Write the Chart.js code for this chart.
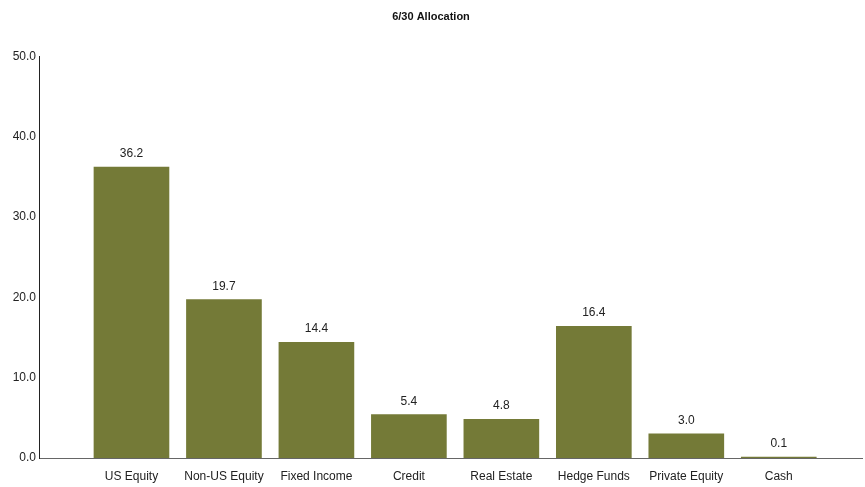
<!DOCTYPE html>
<html>
<head>
<meta charset="utf-8">
<title>6/30 Allocation</title>
<script src="https://cdn.jsdelivr.net/npm/chart.js@4.4.1/dist/chart.umd.min.js"></script>
<style>
  html, body { margin: 0; padding: 0; background: #fff; }
  #wrap { width: 865px; height: 487px; }
</style>
</head>
<body>
<div id="wrap"><canvas id="allocChart" width="865" height="487"></canvas></div>
<script>
// Data
const categories = ['US Equity', 'Non-US Equity', 'Fixed Income', 'Credit', 'Real Estate', 'Hedge Funds', 'Private Equity', 'Cash'];
const allocation = [36.2, 19.7, 14.4, 5.4, 4.8, 16.4, 3.0, 0.1];
const yTicks     = [0, 10, 20, 30, 40, 50];

const BAR_COLOR  = '#747a37';
const FONT       = "'Liberation Sans', Arial, sans-serif";

// value labels above bars
const valueLabels = {
  id: 'valueLabels',
  afterDatasetsDraw(chart) {
    const ctx = chart.ctx;
    const meta = chart.getDatasetMeta(0);
    ctx.save();
    ctx.fillStyle = '#222';
    ctx.font = '12px ' + FONT;
    ctx.textAlign = 'center';
    ctx.textBaseline = 'alphabetic';
    meta.data.forEach((bar, i) => {
      ctx.fillText(allocation[i].toFixed(1), bar.x, bar.y - 10);
    });
    ctx.restore();
  }
};

new Chart(document.getElementById('allocChart'), {
  type: 'bar',
  data: {
    datasets: [{
      data: allocation.map((v, i) => ({ x: i, y: v })),
      backgroundColor: BAR_COLOR,
      borderWidth: 0,
      barThickness: 75
    }]
  },
  options: {
    responsive: false,
    animation: false,
    events: [],
    layout: { padding: { left: 0, right: 3, top: 0, bottom: 0 } },
    plugins: {
      legend: { display: false },
      tooltip: { enabled: false },
      title: {
        display: true,
        text: '6/30 Allocation',
        color: '#111',
        font: { family: "'Liberation Sans Narrow', " + FONT, size: 11, weight: 'bold' },
        padding: { top: 10, bottom: 33 }
      }
    },
    scales: {
      x: {
        type: 'linear',
        offset: false,
        min: -1,
        max: 7.9,
        grid: { display: false, drawTicks: false },
        border: { display: true, color: '#666', width: 1 },
        afterBuildTicks(scale) { scale.ticks = categories.map((c, i) => ({ value: i })); },
        ticks: {
          autoSkip: false,
          maxRotation: 0,
          padding: 11,
          color: '#222',
          font: { family: FONT, size: 12 },
          callback: v => categories[v] ?? ''
        },
        afterFit(scale) {
          scale.height = 29;
          scale.paddingLeft = 0;
          scale.paddingRight = 0;
        }
      },
      y: {
        min: 0,
        max: 50,
        grid: { display: false, drawTicks: false },
        border: { display: true, color: '#222', width: 1 },
        afterBuildTicks(scale) { scale.ticks = yTicks.map(v => ({ value: v })); },
        ticks: {
          padding: 3,
          color: '#222',
          font: { family: FONT, size: 12 },
          callback: v => Number(v).toFixed(1)
        },
        afterFit(scale) { scale.width = 39; }
      }
    }
  },
  plugins: [valueLabels]
});
</script>
</body>
</html>
